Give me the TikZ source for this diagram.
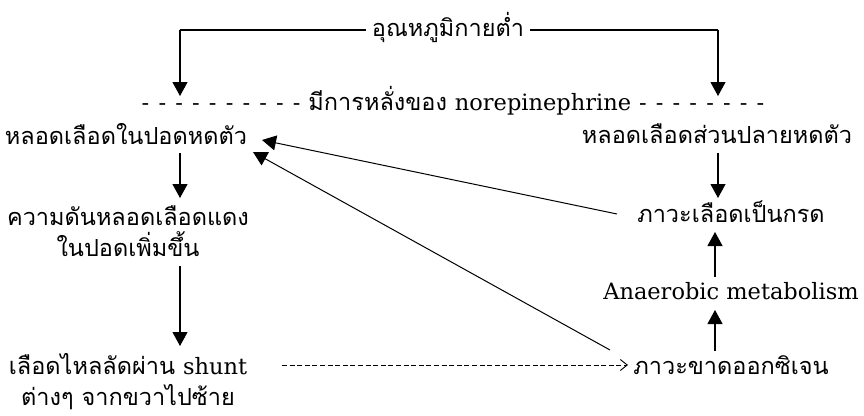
\documentclass[tikz,border=0pt]{standalone}
\usepackage{fontspec}
\setmainfont{DejaVu Serif}
\newfontfamily\thai[Script=Thai]{Loma}
\newcommand\lt[1]{{\rmfamily\fontsize{22.5}{28}\selectfont #1}}
\newcommand\dashes[1]{{\rmfamily\fontsize{22.5}{28}\selectfont\spaceskip=9.2pt #1}}
\usetikzlibrary{arrows.meta}
\begin{document}
\begin{tikzpicture}[x=1pt,y=-1pt,
  every node/.style={inner sep=0pt},
  txt/.style={font=\thai\fontsize{23.5}{31}\selectfont, align=center},
  lat/.style={font=\rmfamily\fontsize{22.5}{28}\selectfont},
  conn/.style={line width=1.1pt, -{Triangle[length=14pt,width=15pt]}},
  plain/.style={line width=1.1pt},
  dconn/.style={line width=0.9pt, dash pattern=on 5pt off 2.6pt, -{Straight Barb[length=7pt,width=11pt,line width=0.9pt]}}]
\useasboundingbox (0,0) rectangle (864,415);
\node[txt] (cold) at (448,27) {อุณหภูมิกายต่ำ};
\node[txt] (nor) at (453,101) {\dashes{- - - - - - - - - -} มีการหลั่งของ \lt{norepinephrine} \dashes{- - - - - - - -}};
\node[txt] (pulm) at (126,134) {หลอดเลือดในปอดหดตัว};
\node[txt] (peri) at (717,134) {หลอดเลือดส่วนปลายหดตัว};
\node[txt] (press) at (128,231) {ความดันหลอดเลือดแดง\\ในปอดเพิ่มขึ้น};
\node[txt] (shunt) at (128,382) {เลือดไหลลัดผ่าน \lt{shunt}\\ต่างๆ จากขวาไปซ้าย};
\node[txt] (hypox) at (731,365) {ภาวะขาดออกซิเจน};
\node[lat] (anaer) at (731,291) {Anaerobic metabolism};
\node[txt] (acid) at (731,212) {ภาวะเลือดเป็นกรด};
% top split
\coordinate (lc) at (180,30);
\coordinate (rc) at (718,30);
\coordinate (ltip) at (180,96);
\coordinate (rtip) at (718,96);
\draw[plain] ([xshift=-6pt]cold.west |- lc) -- (lc);
\draw[conn] (lc) -- (ltip);
\draw[plain] ([xshift=6pt]cold.east |- rc) -- (rc);
\draw[conn] (rc) -- (rtip);
% left column
\coordinate (a1) at (180,153); \coordinate (a2) at (180,198);
\coordinate (b1) at (180,266); \coordinate (b2) at (180,346);
\draw[conn] (a1) -- (a2);
\draw[conn] (b1) -- (b2);
% right column
\coordinate (c1) at (718,153); \coordinate (c2) at (718,198);
\coordinate (d1) at (715,277); \coordinate (d2) at (715,232);
\coordinate (e1) at (715,351); \coordinate (e2) at (715,310);
\draw[conn] (c1) -- (c2);
\draw[conn] (d1) -- (d2);
\draw[conn] (e1) -- (e2);
% diagonals
\coordinate (f1) at (617,214); \coordinate (f2) at (262,140);
\coordinate (g1) at (610,350); \coordinate (g2) at (253,152);
\draw[line width=1pt, -{Triangle[length=14pt,width=15pt]}] (f1) -- (f2);
\draw[line width=1pt, -{Triangle[length=14pt,width=15pt]}] (g1) -- (g2);
% dashed
\coordinate (h1) at (282,365); \coordinate (h2) at (628,365);
\draw[dconn] (h1) -- (h2);
\end{tikzpicture}
\end{document}
